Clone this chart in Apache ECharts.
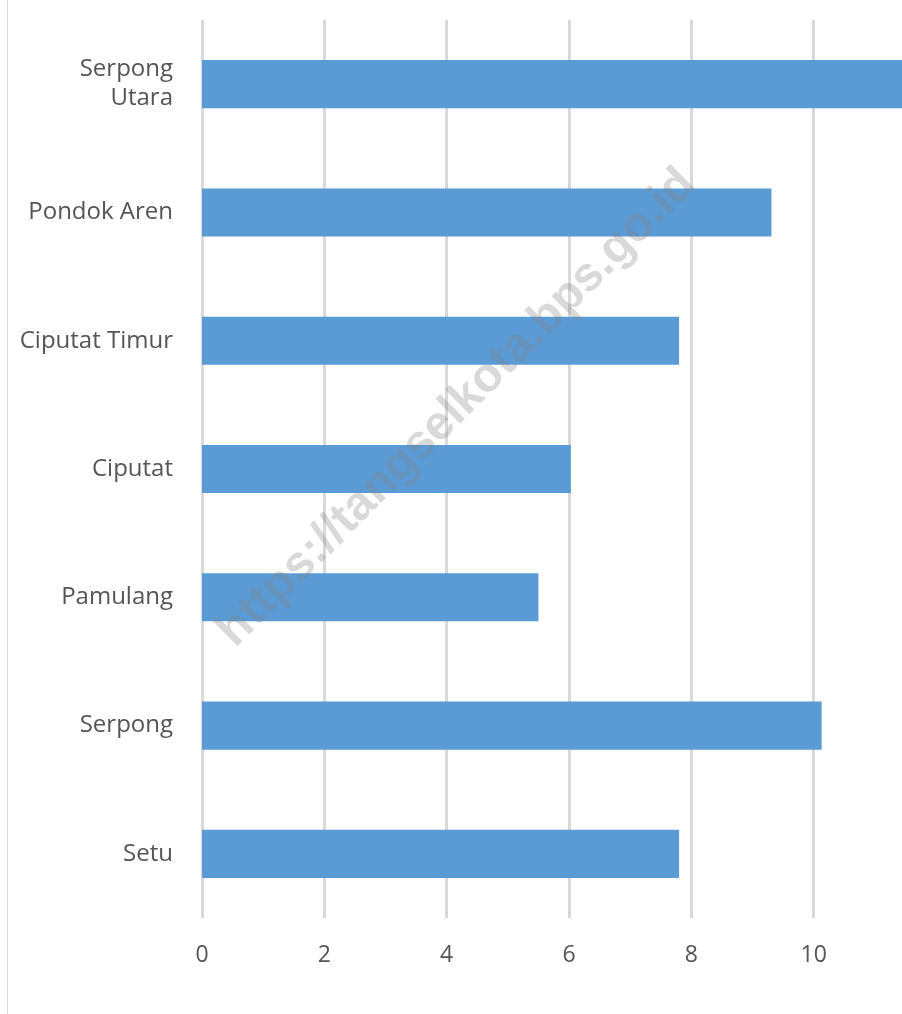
<!DOCTYPE html>
<html>
<head>
<meta charset="utf-8">
<style>
  html, body { margin: 0; padding: 0; background: #ffffff; overflow: hidden; }
  /* the plot runs on past the right edge of the window, so the top bar is cut off there */
  #chart { width: 939px; height: 1014px; }
</style>
<script src="https://cdn.jsdelivr.net/npm/echarts@6/dist/echarts.min.js"></script>
</head>
<body>
<div id="chart"></div>
<script>
// Kecamatan listed bottom-to-top, as the category axis draws them
const categories = ['Setu', 'Serpong', 'Pamulang', 'Ciputat', 'Ciputat Timur', 'Pondok Aren', 'Serpong\nUtara'];
const values = [7.8, 10.13, 5.5, 6.03, 7.8, 9.31, 11.6];
const xTicks = [0, 2, 4, 6, 8, 10, 12];

const chart = echarts.init(document.getElementById('chart'), null, { renderer: 'canvas' });

chart.setOption({
  animation: false,
  backgroundColor: '#ffffff',
  graphic: [
    {
      type: 'line',
      shape: { x1: 7.5, y1: 0, x2: 7.5, y2: 1014 },
      style: { stroke: '#d9d9d9', lineWidth: 1 },
      z: 0
    },
    {
      type: 'text',
      x: 457,
      y: 408,
      rotation: Math.PI / 4,
      style: {
        text: 'https://tangselkota.bps.go.id',
        font: 'bold 48px "Liberation Sans", Arial, sans-serif',
        fill: 'rgba(128,128,128,0.3)',
        align: 'center',
        verticalAlign: 'middle'
      },
      z: 100
    }
  ],
  grid: { left: 202, right: 0, top: 20, bottom: 96, containLabel: false },
  xAxis: {
    type: 'value',
    min: xTicks[0],
    max: xTicks[xTicks.length - 1],
    interval: 2,
    axisLine: { show: false },
    axisTick: { show: false },
    splitLine: { show: true, lineStyle: { color: '#d9d9d9', width: 3 } },
    axisLabel: {
      color: '#555555',
      fontSize: 23,
      fontFamily: '"Open Sans", "Liberation Sans", sans-serif',
      margin: 26,
      formatter: v => (v === 12 ? '' : String(v))
    }
  },
  yAxis: {
    type: 'category',
    data: categories,
    axisLine: { show: false },
    axisTick: { show: false },
    splitLine: { show: false },
    axisLabel: {
      color: '#555555',
      fontSize: 24,
      lineHeight: 29,
      fontFamily: '"Open Sans", "Liberation Sans", sans-serif',
      margin: 29,
      align: 'right',
      padding: [4, 0, 0, 0]
    }
  },
  series: [{
    type: 'bar',
    data: values,
    barWidth: '37.5%',
    itemStyle: { color: '#5b9bd5' },
    z: 2
  }]
});
</script>
</body>
</html>
